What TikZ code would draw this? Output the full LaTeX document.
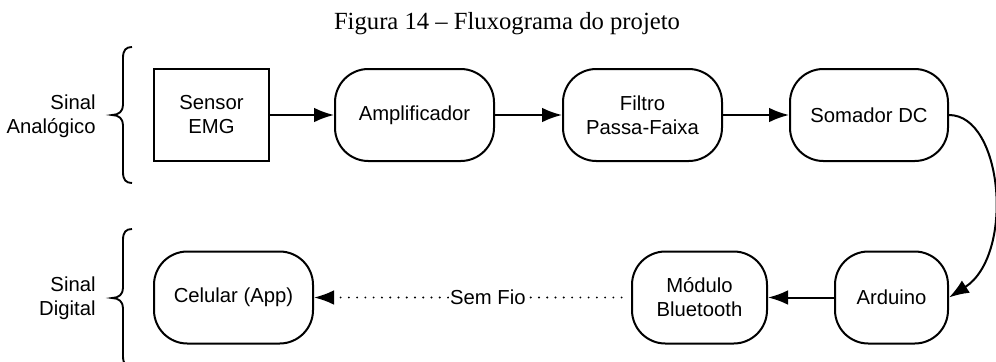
\documentclass[tikz,border=0pt]{standalone}
\usepackage{fontspec}
\setmainfont{Liberation Sans}
\newfontfamily\titlefont[Ligatures=TeX]{Liberation Serif}
\usetikzlibrary{arrows.meta}
\begin{document}
\begin{tikzpicture}[x=0.75pt,y=-0.75pt,
  line width=1.5pt,
  boxbase/.style={draw=black, line width=1.5pt, align=center, inner sep=2pt,
    minimum height=69pt, font=\fontsize{15.2}{18}\selectfont},
  sqbox/.style={boxbase},
  rbox/.style={boxbase, rounded corners=25pt},
  arr/.style={-{Latex[length=15pt,width=11pt]}, line width=1.5pt},
  dotarr/.style={-{Latex[length=15pt,width=11pt]}, line width=1.6pt, line cap=round, dash pattern=on 0pt off 6.2pt},
  lbl/.style={align=right, anchor=east, font=\fontsize{15.2}{18}\selectfont},
  bracestyle/.style={line width=1.4pt}
]
\useasboundingbox (0,0) rectangle (996,361);
\node[font=\titlefont\fontsize{18.5}{22}\selectfont, anchor=base] (title) at (507,29) {Figura 14 – Fluxograma do projeto};

% top row
\node[sqbox, minimum width=86.25pt] (sensor) at (211.5,115) {Sensor\\EMG};
\node[rbox, minimum width=119.25pt] (amp) at (414.5,115) {Amplificador};
\node[rbox, minimum width=119.25pt] (filtro) at (642.5,115) {Filtro\\Passa-Faixa};
\node[rbox, minimum width=118.5pt] (somador) at (869,115) {Somador DC};

% bottom row
\node[rbox, minimum width=84.75pt] (arduino) at (891.5,297.5) {Arduino};
\node[rbox, minimum width=101.25pt] (modulo) at (699.5,297.5) {Módulo\\Bluetooth};
\node[rbox, minimum width=119.25pt] (celular) at (233.5,297.5) {Celular (App)};

% connectors
\draw[arr] (sensor) -- (amp);
\draw[arr] (amp) -- (filtro);
\draw[arr] (filtro) -- (somador);
\draw[arr] (somador.east) .. controls (1003,115) and (1015,255) .. (arduino.east);
\draw[arr] (arduino) -- (modulo);
\draw[dotarr] ([xshift=-7pt]modulo.west) -- (celular.east)
  node[pos=0.435, fill=white, inner sep=1pt, font=\fontsize{15.2}{18}\selectfont, solid] (semfio) {Sem Fio};

% labels
\node[lbl] (lanalog) at (101,116) {Sinal\\Analógico};
\node[lbl] (ldigital) at (101,298) {Sinal\\Digital};

% braces
\draw[bracestyle] (132,47) .. controls (126,47) and (123,50) .. (123,58) -- (123,105)
  .. controls (123,111) and (119,115) .. (112,115)
  .. controls (119,115) and (123,119) .. (123,125) -- (123,172)
  .. controls (123,180) and (126,183) .. (132,183);
\draw[bracestyle] (132,229) .. controls (126,229) and (123,232) .. (123,240) -- (123,288)
  .. controls (123,294) and (119,298) .. (112,298)
  .. controls (119,298) and (123,302) .. (123,308) -- (123,356)
  .. controls (123,364) and (126,367) .. (132,367);
\end{tikzpicture}
\end{document}
